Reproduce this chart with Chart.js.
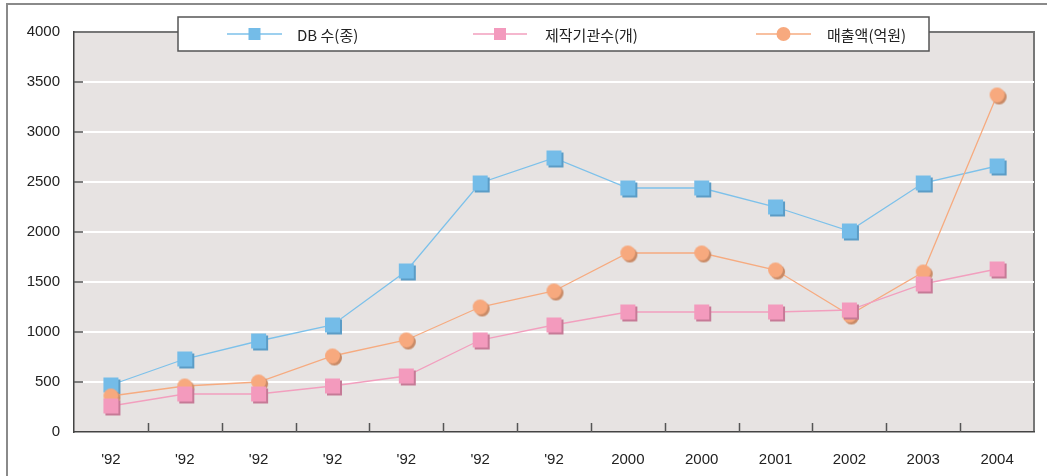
<!DOCTYPE html>
<html>
<head>
<meta charset="utf-8">
<script src="https://cdn.jsdelivr.net/npm/chart.js@4"></script>
<style>
  body { margin: 0; background: #fff; }
  #wrap { width: 1047px; height: 476px; position: relative; }
</style>
</head>
<body>
<div id="wrap"><canvas id="lineChartDB"></canvas></div>
<script>
const years        = ["'92", "'92", "'92", "'92", "'92", "'92", "'92", '2000', '2000', '2001', '2002', '2003', '2004'];
const dbCount      = [470, 730, 910, 1070, 1610, 2490, 2740, 2440, 2440, 2250, 2010, 2490, 2660];
const agencyCount  = [260, 380, 380, 460, 560, 920, 1070, 1200, 1200, 1200, 1220, 1480, 1630];
const salesAmount  = [360, 460, 500, 760, 920, 1250, 1410, 1790, 1790, 1620, 1170, 1600, 3370];
const seriesLabels = ['DB 수(종)', '제작기관수(개)', '매출액(억원)'];
const yTicks       = [0, 500, 1000, 1500, 2000, 2500, 3000, 3500, 4000];

// marker with a small darker shadow baked in
function marker(shape, fill, shadow, size) {
    const c = document.createElement('canvas');
    const n = size + 6;
    c.width = n; c.height = n;
    const g = c.getContext('2d');
    const o = 3;
    const draw = (dx, col) => {
        g.fillStyle = col;
        if (shape === 'rect') {
            g.fillRect(o + dx, o + dx, size, size);
        } else {
            g.beginPath();
            g.arc(o + dx + size / 2, o + dx + size / 2, size / 2, 0, Math.PI * 2);
            g.fill();
        }
    };
    draw(2, shadow);
    draw(0, fill);
    return c;
}

const colors = {
    db:     { line: '#7dc1ea', fill: '#74bce8', shadow: '#5b9cc6' },
    agency: { line: '#f29fbe', fill: '#f39abd', shadow: '#c67a97' },
    sales:  { line: '#f6ab80', fill: '#f7a97e', shadow: '#c98a66' },
};

const frameAndBg = {
    id: 'frameAndBg',
    beforeDraw(chart) {
        const { ctx, chartArea: a } = chart;
        ctx.save();
        ctx.fillStyle = '#e7e3e2';
        ctx.fillRect(a.left, a.top, a.right - a.left, a.bottom - a.top);
        // outer frame
        ctx.strokeStyle = '#8a8a8a';
        ctx.lineWidth = 2;
        ctx.beginPath();
        ctx.moveTo(7, 476);
        ctx.lineTo(7, 4);
        ctx.lineTo(1047, 4);
        ctx.stroke();
        // top/right plot border
        ctx.strokeStyle = '#777';
        ctx.lineWidth = 2;
        ctx.beginPath();
        ctx.moveTo(a.left, a.top);
        ctx.lineTo(a.right, a.top);
        ctx.lineTo(a.right, a.bottom);
        ctx.stroke();
        ctx.restore();
    },
    beforeDatasetsDraw(chart) {
        const { ctx, chartArea: a, scales: { x, y } } = chart;
        ctx.save();
        ctx.strokeStyle = '#555';
        ctx.lineWidth = 1.5;
        ctx.beginPath();
        // inner tick marks on the y axis
        yTicks.slice(1, -1).forEach(v => {
            const py = Math.round(y.getPixelForValue(v));
            ctx.moveTo(a.left, py);
            ctx.lineTo(a.left + 9, py);
        });
        // inner tick marks between categories
        for (let i = 1; i < years.length; i++) {
            const px = Math.round((x.getPixelForTick(i - 1) + x.getPixelForTick(i)) / 2) + 0.5;
            ctx.moveTo(px, a.bottom);
            ctx.lineTo(px, a.bottom - 9);
        }
        ctx.stroke();
        ctx.restore();
    },
    afterDraw(chart) {
        const { ctx } = chart;
        ctx.save();
        // legend box
        ctx.fillStyle = '#fff';
        ctx.fillRect(178, 17, 751, 34);
        ctx.strokeStyle = '#555';
        ctx.lineWidth = 1.5;
        ctx.strokeRect(178, 17, 751, 34);
        const items = [
            { c: colors.db,     shape: 'rect',   x0: 227, x1: 282, tx: 297 },
            { c: colors.agency, shape: 'rect',   x0: 473, x1: 527, tx: 545 },
            { c: colors.sales,  shape: 'circle', x0: 756, x1: 811, tx: 827 },
        ];
        ctx.font = '15px "Noto Sans CJK KR", "Noto Sans", sans-serif';
        ctx.textBaseline = 'middle';
        items.forEach((it, i) => {
            const cy = 34;
            ctx.strokeStyle = it.c.line;
            ctx.lineWidth = 1.5;
            ctx.beginPath();
            ctx.moveTo(it.x0, cy);
            ctx.lineTo(it.x1, cy);
            ctx.stroke();
            const mx = (it.x0 + it.x1) / 2;
            ctx.fillStyle = it.c.fill;
            if (it.shape === 'rect') {
                ctx.fillRect(mx - 6, cy - 6, 12, 12);
            } else {
                ctx.beginPath();
                ctx.arc(mx, cy, 7, 0, Math.PI * 2);
                ctx.fill();
            }
            ctx.fillStyle = '#222';
            ctx.fillText(seriesLabels[i], it.tx, cy + 1);
        });
        ctx.restore();
    }
};

new Chart(document.getElementById('lineChartDB'), {
    type: 'line',
    data: {
        labels: years,
        datasets: [
            {
                label: seriesLabels[0],
                data: dbCount,
                borderColor: colors.db.line,
                borderWidth: 1.3,
                pointStyle: marker('rect', colors.db.fill, colors.db.shadow, 15),
                order: 3,
            },
            {
                label: seriesLabels[1],
                data: agencyCount,
                borderColor: colors.agency.line,
                borderWidth: 1.3,
                pointStyle: marker('rect', colors.agency.fill, colors.agency.shadow, 15),
                order: 1,
            },
            {
                label: seriesLabels[2],
                data: salesAmount,
                borderColor: colors.sales.line,
                borderWidth: 1.3,
                pointStyle: marker('circle', colors.sales.fill, colors.sales.shadow, 15),
                order: 2,
            },
        ]
    },
    options: {
        responsive: true,
        maintainAspectRatio: false,
        animation: false,
        layout: { padding: { top: 32, right: 13, left: 0, bottom: 0 } },
        scales: {
            x: {
                offset: true,
                grid: { display: false },
                border: { display: true, color: '#444', width: 1.5 },
                ticks: {
                    padding: 11,
                    color: '#222',
                    font: { family: '"Liberation Sans", Arial, sans-serif', size: 15 },
                    autoSkip: false,
                    maxRotation: 0,
                },
                afterFit: s => { s.height = 44; },
            },
            y: {
                min: 0,
                max: 4000,
                ticks: {
                    stepSize: 500,
                    padding: 14,
                    color: '#222',
                    font: { family: '"Liberation Sans", Arial, sans-serif', size: 15 },
                    callback: v => String(v),
                },
                grid: {
                    drawTicks: false,
                    lineWidth: 2,
                    color: ctx => (ctx.tick && (ctx.tick.value === 0 || ctx.tick.value === 4000)) ? 'rgba(0,0,0,0)' : '#ffffff',
                },
                border: { display: true, color: '#444', width: 1.5 },
                afterFit: s => { s.width = 74; },
            }
        },
        plugins: {
            legend: { display: false },
            tooltip: { enabled: false },
        },
    },
    plugins: [frameAndBg],
});
</script>
</body>
</html>
